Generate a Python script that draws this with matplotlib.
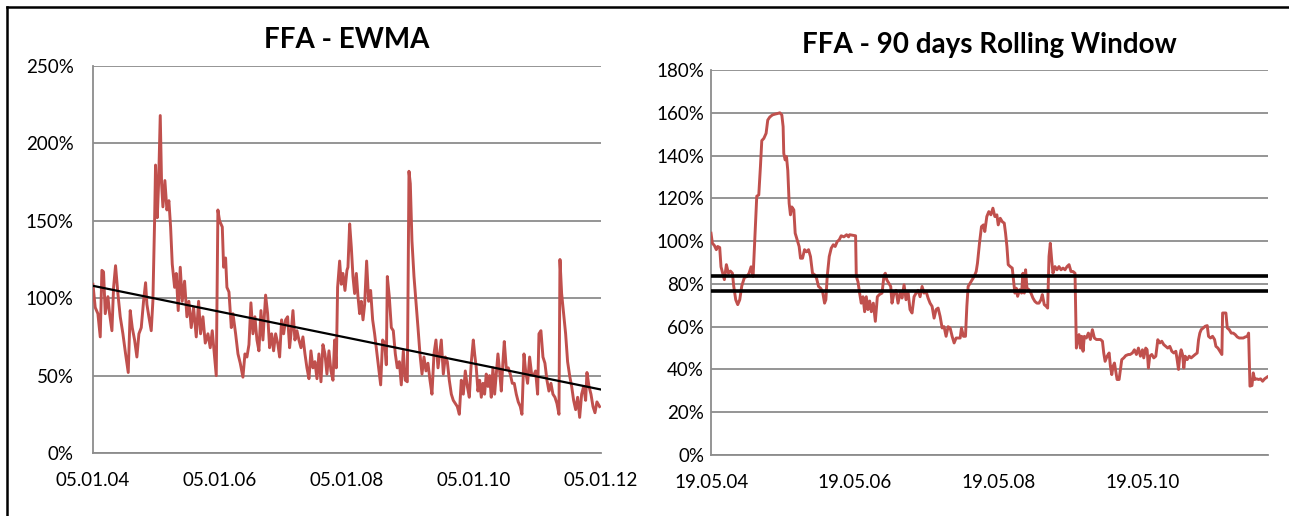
import matplotlib.pyplot as plt
from matplotlib.lines import Line2D

plt.rcParams['font.family'] = ['Lato', 'DejaVu Sans']

###############################################################
# Data
###############################################################

# FFA - EWMA volatility, x in decimal years, y in %
ewma_years = [
    2004.010, 2004.046, 2004.088, 2004.125, 2004.151, 2004.177, 2004.204, 2004.246, 2004.272, 2004.309,
    2004.335, 2004.366, 2004.403, 2004.440, 2004.482, 2004.524, 2004.566, 2004.597, 2004.629, 2004.666,
    2004.702, 2004.734, 2004.771, 2004.807, 2004.839, 2004.860, 2004.891, 2004.928, 2004.954, 2004.981,
    2004.996, 2005.023, 2005.044, 2005.070, 2005.091, 2005.112, 2005.143, 2005.175, 2005.206, 2005.233,
    2005.259, 2005.296, 2005.322, 2005.353, 2005.385, 2005.416, 2005.453, 2005.490, 2005.521, 2005.558,
    2005.595, 2005.637, 2005.674, 2005.705, 2005.742, 2005.779, 2005.821, 2005.857, 2005.889, 2005.926,
    2005.952, 2005.978, 2006.004,
    2006.047, 2006.068, 2006.099, 2006.120, 2006.152, 2006.189, 2006.215, 2006.257, 2006.294, 2006.330,
    2006.372, 2006.404, 2006.435, 2006.467, 2006.498, 2006.530, 2006.561, 2006.593, 2006.624, 2006.656,
    2006.687, 2006.729, 2006.761, 2006.792, 2006.824, 2006.855, 2006.887, 2006.924, 2006.950, 2006.981,
    2007.013, 2007.044, 2007.076, 2007.107, 2007.134, 2007.160, 2007.191, 2007.223, 2007.254, 2007.286,
    2007.317, 2007.349, 2007.380, 2007.412, 2007.443, 2007.475, 2007.506, 2007.538, 2007.569, 2007.601,
    2007.632, 2007.664, 2007.695, 2007.727, 2007.758, 2007.790, 2007.816, 2007.842, 2007.863, 2007.895,
    2007.921, 2007.947, 2007.979, 2008.010,
    2008.026, 2008.053, 2008.079, 2008.105, 2008.131, 2008.158, 2008.184, 2008.210, 2008.236, 2008.263,
    2008.289, 2008.320, 2008.352, 2008.383, 2008.415, 2008.446, 2008.478, 2008.509, 2008.541, 2008.572,
    2008.604, 2008.630, 2008.646, 2008.677, 2008.709, 2008.740, 2008.772, 2008.803, 2008.835, 2008.866,
    2008.898, 2008.929, 2008.961, 2008.987, 2009.008, 2009.034, 2009.066, 2009.097, 2009.129, 2009.160,
    2009.192, 2009.223, 2009.255, 2009.286, 2009.318, 2009.349, 2009.381, 2009.412, 2009.444, 2009.475,
    2009.496, 2009.528, 2009.559, 2009.591, 2009.622, 2009.654, 2009.685, 2009.717, 2009.748, 2009.780,
    2009.811, 2009.843, 2009.874, 2009.906, 2009.937, 2009.969, 2010.000,
    2010.021, 2010.047, 2010.073, 2010.100, 2010.126, 2010.152, 2010.178, 2010.204, 2010.231, 2010.257,
    2010.283, 2010.309, 2010.336, 2010.362, 2010.388, 2010.414, 2010.441, 2010.467, 2010.488, 2010.519,
    2010.551, 2010.582, 2010.614, 2010.645, 2010.677, 2010.708, 2010.740, 2010.766, 2010.798, 2010.824,
    2010.855, 2010.887, 2010.918, 2010.950, 2010.981, 2011.013, 2011.034, 2011.065, 2011.097, 2011.128,
    2011.160, 2011.191, 2011.223, 2011.254, 2011.286, 2011.317, 2011.349, 2011.365, 2011.391, 2011.422,
    2011.454, 2011.485, 2011.517, 2011.549, 2011.580, 2011.612, 2011.643, 2011.675, 2011.706, 2011.738,
    2011.769, 2011.790, 2011.822, 2011.853, 2011.885, 2011.916, 2011.947, 2011.989,
]
ewma_vol = [
    109, 94, 90, 75, 118, 117, 90, 101, 90, 79,
    107, 121, 103, 88, 77, 64, 52, 92, 81, 73,
    62, 77, 81, 98, 110, 96, 88, 79, 98, 150,
    186, 152, 174, 218, 174, 159, 176, 157, 163, 146,
    122, 107, 116, 92, 120, 98, 111, 88, 98, 81,
    94, 75, 98, 77, 88, 71, 77, 68, 79, 62,
    50, 157, 150,
    146, 120, 126, 107, 104, 81, 90, 77, 64, 58,
    49, 64, 62, 70, 97, 77, 88, 73, 66, 92,
    73, 102, 90, 68, 77, 66, 77, 70, 62, 86,
    77, 86, 88, 68, 79, 92, 73, 79, 73, 68,
    75, 64, 55, 48, 66, 55, 59, 48, 64, 46,
    70, 64, 51, 66, 53, 47, 73, 55, 107, 124,
    109, 116, 105, 118,
    120, 148, 133, 114, 103, 116, 101, 90, 98, 86,
    96, 124, 98, 105, 86, 77, 66, 55, 44, 73,
    71, 57, 114, 101, 81, 79, 64, 55, 59, 44,
    66, 47, 46, 182, 174, 137, 114, 98, 81, 64,
    51, 62, 53, 58, 47, 38, 64, 73, 55, 66,
    73, 51, 62, 59, 47, 38, 34, 32, 30, 25,
    47, 38, 53, 43, 36, 59, 73,
    64, 55, 40, 47, 36, 45, 38, 51, 43, 50,
    36, 55, 38, 51, 64, 53, 40, 59, 72, 55,
    55, 51, 45, 45, 38, 33, 30, 25, 64, 53,
    45, 62, 51, 50, 53, 38, 77, 79, 62, 58,
    47, 40, 45, 38, 36, 32, 25, 125, 103, 90,
    77, 59, 50, 43, 34, 28, 36, 23, 38, 43,
    34, 52, 43, 38, 30, 26, 33, 30,
]
# linear trend of the EWMA series (start / end value in %)
trend_years = [2004.010, 2012.010]
trend_vol = [108, 41]

# FFA - 90 days rolling window volatility
roll_years = [
    2004.375, 2004.394, 2004.421, 2004.449, 2004.468, 2004.496, 2004.514, 2004.538, 2004.561, 2004.589,
    2004.617, 2004.645, 2004.673, 2004.691, 2004.719, 2004.747, 2004.775, 2004.803, 2004.840, 2004.877,
    2004.905, 2004.933, 2004.961, 2004.989, 2005.012, 2005.040, 2005.063, 2005.082, 2005.110, 2005.142,
    2005.165, 2005.193, 2005.230, 2005.268, 2005.305, 2005.333, 2005.361, 2005.379, 2005.388, 2005.407,
    2005.426, 2005.444, 2005.463, 2005.481, 2005.500, 2005.528, 2005.547, 2005.574, 2005.602, 2005.621,
    2005.649, 2005.677, 2005.705, 2005.733, 2005.760, 2005.788, 2005.816, 2005.844, 2005.872, 2005.900,
    2005.928, 2005.956, 2005.974, 2005.993, 2006.021, 2006.049, 2006.077, 2006.104, 2006.132, 2006.160,
    2006.188, 2006.225, 2006.263, 2006.290,
    2006.305, 2006.388, 2006.398, 2006.421, 2006.444, 2006.467, 2006.491, 2006.514, 2006.537, 2006.560,
    2006.584, 2006.607, 2006.635, 2006.663, 2006.691, 2006.719, 2006.756, 2006.784, 2006.802, 2006.821,
    2006.849, 2006.877, 2006.895, 2006.923, 2006.951, 2006.979, 2007.007, 2007.035, 2007.063, 2007.090,
    2007.118, 2007.146, 2007.174, 2007.202, 2007.230, 2007.258, 2007.286, 2007.314, 2007.341, 2007.369,
    2007.397, 2007.425, 2007.453, 2007.481, 2007.509, 2007.537, 2007.565, 2007.593, 2007.620, 2007.648,
    2007.676, 2007.704, 2007.732, 2007.760, 2007.788, 2007.816, 2007.844, 2007.862, 2007.890, 2007.918,
    2007.937, 2007.955, 2007.983, 2008.011, 2008.039, 2008.067, 2008.085, 2008.113, 2008.141, 2008.169,
    2008.187, 2008.215, 2008.243,
    2008.272, 2008.300, 2008.327, 2008.355, 2008.374, 2008.402, 2008.430, 2008.458, 2008.476, 2008.495,
    2008.513, 2008.541, 2008.569, 2008.588, 2008.606, 2008.625, 2008.644, 2008.671, 2008.699, 2008.718,
    2008.737, 2008.755, 2008.774, 2008.802, 2008.830, 2008.857, 2008.885, 2008.913, 2008.941, 2008.969,
    2008.988, 2009.015, 2009.043, 2009.062, 2009.081, 2009.099, 2009.118, 2009.136, 2009.164, 2009.192,
    2009.220, 2009.248, 2009.276, 2009.304, 2009.332, 2009.360, 2009.387, 2009.415, 2009.443, 2009.452,
    2009.462, 2009.480, 2009.499, 2009.518, 2009.536, 2009.555, 2009.573, 2009.601, 2009.629, 2009.657,
    2009.685, 2009.713, 2009.741, 2009.769, 2009.797, 2009.825, 2009.843, 2009.862, 2009.890, 2009.918,
    2009.936, 2009.955, 2009.973, 2009.992, 2010.010, 2010.029, 2010.057, 2010.076, 2010.094, 2010.122,
    2010.150, 2010.187,
    2010.210, 2010.242, 2010.270, 2010.298, 2010.326, 2010.354, 2010.382, 2010.400, 2010.428, 2010.447,
    2010.465, 2010.484, 2010.512, 2010.540, 2010.568, 2010.596, 2010.624, 2010.651, 2010.679, 2010.707,
    2010.735, 2010.763, 2010.791, 2010.819, 2010.847, 2010.865, 2010.884, 2010.902, 2010.921, 2010.940,
    2010.958, 2010.977, 2011.005, 2011.033, 2011.060, 2011.088, 2011.116, 2011.144, 2011.163, 2011.181,
    2011.200, 2011.228, 2011.256, 2011.284, 2011.302, 2011.330, 2011.358, 2011.386, 2011.405, 2011.433,
    2011.460, 2011.488, 2011.498, 2011.526, 2011.544, 2011.563, 2011.591, 2011.619, 2011.646, 2011.674,
    2011.702, 2011.730, 2011.758, 2011.786, 2011.814, 2011.842, 2011.860, 2011.869, 2011.879, 2011.907,
    2011.925, 2011.944, 2011.972, 2012.000, 2012.027, 2012.055, 2012.083, 2012.120,
]
roll_vol = [
    103.7, 99, 98, 96, 97.5, 97, 88, 85, 82, 89,
    85, 86, 85, 79, 72.6, 70.3, 72.6, 79, 83, 83.5,
    85, 88, 83.5, 104, 121, 121.6, 134.8, 147, 148, 150.4,
    156.6, 158, 159, 159.4, 159.7, 160, 159, 153.5, 141, 138,
    139.5, 133, 117.7, 112.3, 116, 114.6, 103.7, 100.6, 97.5, 92,
    92, 96, 95, 96, 92.8, 85, 84.3, 82.7, 78.8, 78,
    76.5, 71, 72.6, 83.5, 92.8, 96.7, 98.3, 97.5, 99.8, 100.6,
    102.5, 102, 103, 102,
    103, 102.5, 83.5, 81, 75.7, 71, 74, 67, 74, 68,
    72, 67, 71, 62.5, 74, 75, 75.7, 84, 85, 82,
    80.4, 78.8, 71, 75.7, 77, 71, 75.7, 73.4, 79.6, 72.6,
    76.5, 68, 66.4, 74, 75.7, 77, 74, 78.8, 75.7, 76.5,
    73.4, 71, 69.5, 64, 68, 68.7, 64.8, 59.4, 60, 55.5,
    60, 59.4, 55.5, 52.4, 54.7, 54.7, 54.7, 59.4, 55.5, 55.5,
    69.5, 78.8, 80.4, 82, 83.5, 85.8, 89.7, 99, 106.8, 107.6,
    104.5, 111.5, 113.8,
    112.3, 115.4, 111.5, 112.3, 107.6, 110.7, 109.1, 108.4, 103.7, 97.5,
    89, 88.1, 87.4, 81.2, 75.7, 78, 74.2, 77.3, 75.7, 85,
    75.7, 86.6, 78, 77.3, 75.7, 73.4, 71.8, 71, 71, 72.6,
    75, 70.3, 69.5, 68.7, 92.8, 99, 91.3, 85, 88.1, 86.6,
    88.1, 86.6, 87.4, 86.6, 88.1, 89, 85.8, 85.8, 85, 69.5,
    50, 54, 56.3, 50, 55.5, 48.5, 55.5, 54.7, 57, 54,
    58.6, 54.7, 54, 54, 54, 53.2, 47.7, 43.8, 46.2, 47.7,
    41.5, 37.6, 41.5, 43, 39.2, 35.3, 35.3, 40, 44.6, 45.4,
    46.5, 47,
    47, 47.7, 49.2, 47, 50, 46.2, 49.2, 45.4, 50, 49.2,
    40.7, 46.2, 47, 45.4, 46.2, 53.9, 52.4, 53.2, 51.6, 50.8,
    50, 50.8, 48.5, 47.7, 48.5, 44.6, 40, 46.2, 49.2, 47,
    40.7, 46.2, 44.6, 46.2, 45.4, 46.2, 47, 47.7, 53.9, 57,
    58.6, 59.4, 60.2, 60.5, 55.5, 54.7, 55.5, 54, 50.8, 50,
    48.5, 47, 66.4, 66.4, 66.4, 59.4, 58.6, 57, 57, 56.3,
    55.2, 54.7, 54.7, 54.7, 55.2, 55.5, 57, 44.6, 32.2, 32.5,
    38.4, 35.3, 35.6, 35.3, 35.6, 34.5, 35.6, 36.5,
]
# two reference levels on the rolling window chart (%)
roll_levels = [83.8, 76.8]

ewma_ticks = [2004.010, 2006.010, 2008.010, 2010.010, 2012.010]
ewma_tick_labels = ['05.01.04', '05.01.06', '05.01.08', '05.01.10', '05.01.12']
roll_ticks = [2004.380, 2006.380, 2008.380, 2010.380]
roll_tick_labels = ['19.05.04', '19.05.06', '19.05.08', '19.05.10']

###############################################################
# Plot
###############################################################
red = '#C0504D'
grid_col = '#8C8C8C'

fig = plt.figure(figsize=(12.89, 5.16), dpi=100)

ax_left = fig.add_axes([0.0721, 0.1221, 0.3941, 0.7500])
ax_right = fig.add_axes([0.5516, 0.1182, 0.4321, 0.7461])


def style_axis(ax, ymax, ystep):
    ax.set_ylim(0, ymax)
    ax.set_yticks(range(0, ymax + 1, ystep))
    ax.set_yticklabels(['%d%%' % v for v in range(0, ymax + 1, ystep)])
    ax.yaxis.grid(True, color=grid_col, linewidth=1.3)
    ax.set_axisbelow(True)
    for side in ['top', 'right']:
        ax.spines[side].set_visible(False)
    for side in ['left', 'bottom']:
        ax.spines[side].set_color(grid_col)
        ax.spines[side].set_linewidth(1.3)
    ax.tick_params(axis='both', length=0, labelsize=13.5, colors='black')
    ax.tick_params(axis='y', pad=14)
    ax.tick_params(axis='x', pad=14)


# left: EWMA
ax_left.plot(ewma_years, ewma_vol, color=red, linewidth=2.1, zorder=3)
ax_left.plot(trend_years, trend_vol, color='black', linewidth=1.6, zorder=4)
ax_left.set_xlim(ewma_ticks[0], ewma_ticks[-1])
ax_left.set_xticks(ewma_ticks)
ax_left.set_xticklabels(ewma_tick_labels)
style_axis(ax_left, 250, 50)
ax_left.set_title('FFA - EWMA', fontsize=20, fontweight='bold', pad=13)

# right: 90 days rolling window
ax_right.plot(roll_years, roll_vol, color=red, linewidth=2.1, zorder=3)
for level in roll_levels:
    ax_right.axhline(level, color='black', linewidth=2.6, zorder=4)
ax_right.set_xlim(roll_ticks[0] - 0.005, 2012.13)
ax_right.set_xticks(roll_ticks)
ax_right.set_xticklabels(roll_tick_labels)
style_axis(ax_right, 180, 20)
ax_right.tick_params(axis='y', pad=5)
ax_right.set_title('FFA - 90 days Rolling Window', fontsize=20, fontweight='bold', pad=12)

# frame lines at the top and left of the picture
fig.add_artist(Line2D([0.0054, 1.0], [0.9864, 0.9864], color='black', linewidth=1.8,
                      transform=fig.transFigure))
fig.add_artist(Line2D([0.0054, 0.0054], [0.0, 0.9864], color='black', linewidth=1.8,
                      transform=fig.transFigure))

fig.savefig('out.png', dpi=100)
